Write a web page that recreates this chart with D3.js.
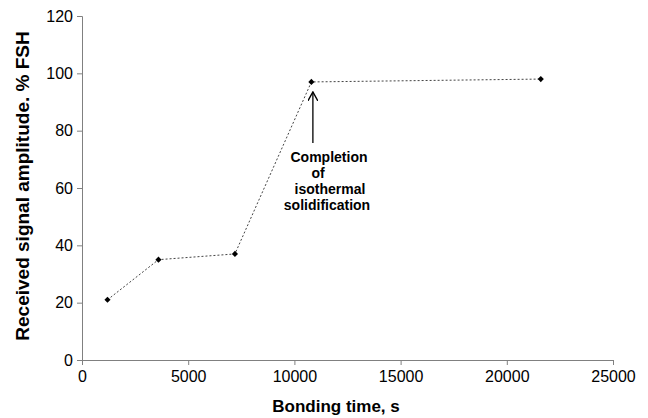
<!DOCTYPE html>
<html>
<head>
<meta charset="utf-8">
<script src="https://cdn.jsdelivr.net/npm/d3@7"></script>
<style>
  html, body { margin: 0; padding: 0; background: #fff; }
  svg { display: block; font-family: Arial, "Liberation Sans", sans-serif; }
</style>
</head>
<body>
<svg id="chart" width="648" height="418"></svg>
<script>
// Bonding time (s) and received signal amplitude (% FSH)
const bondingTime = [1200, 3600, 7200, 10800, 21600];
const amplitude = [21, 35, 37, 97, 98];
const xTicks = [0, 5000, 10000, 15000, 20000, 25000];
const yTicks = [0, 20, 40, 60, 80, 100, 120];
const annotationLines = ["Completion", "of", "isothermal", "solidification"];
const annotatedIndex = 3;

const svg = d3.select("#chart");
const margin = { left: 82, right: 35, top: 16, bottom: 58 };
const W = 648, H = 418;

const x = d3.scaleLinear().domain([0, 25000]).range([margin.left, W - margin.right]);
const y = d3.scaleLinear().domain([0, 120]).range([H - margin.bottom, margin.top]);

const axisColor = "#808080";
const fontStack = "Arial, 'Liberation Sans', sans-serif";

// x axis
const gx = svg.append("g")
  .attr("transform", `translate(0,${y(0)})`)
  .call(d3.axisBottom(x).tickValues(xTicks).tickSize(5).tickPadding(6).tickFormat(d3.format("d")));
gx.select(".domain").attr("stroke", axisColor);
gx.selectAll(".tick line").attr("stroke", axisColor);
gx.selectAll(".tick text").attr("font-size", 16).attr("fill", "#000").attr("font-family", fontStack);

// y axis
const gy = svg.append("g")
  .attr("transform", `translate(${x(0)},0)`)
  .call(d3.axisLeft(y).tickValues(yTicks).tickSize(5).tickPadding(4).tickFormat(d3.format("d")));
gy.select(".domain").attr("stroke", axisColor);
gy.selectAll(".tick line").attr("stroke", axisColor);
gy.selectAll(".tick text").attr("font-size", 16).attr("fill", "#000").attr("font-family", fontStack);

// axis titles
svg.append("text")
  .attr("x", 336)
  .attr("y", 412)
  .attr("text-anchor", "middle")
  .attr("font-size", 17)
  .attr("font-weight", "bold")
  .text("Bonding time, s");

svg.append("text")
  .attr("transform", "translate(28.5,186) rotate(-90)")
  .attr("text-anchor", "middle")
  .attr("font-size", 19)
  .attr("font-weight", "bold")
  .text("Received signal amplitude. % FSH");

// series line
const pts = bondingTime.map((t, i) => [t, amplitude[i]]);
svg.append("path")
  .datum(pts)
  .attr("fill", "none")
  .attr("stroke", "#444")
  .attr("stroke-width", 1)
  .attr("stroke-dasharray", "2,2")
  .attr("d", d3.line().x(d => x(d[0])).y(d => y(d[1])));

// diamond markers
svg.append("g").selectAll("path")
  .data(pts)
  .join("path")
  .attr("transform", d => `translate(${x(d[0])},${y(d[1])})`)
  .attr("d", d3.symbol(d3.symbolDiamond2, 24))
  .attr("fill", "#000");

// annotation arrow and text
const ax = x(bondingTime[annotatedIndex]) + 1.5;
const tipY = y(amplitude[annotatedIndex]) + 10;
svg.append("defs").append("marker")
  .attr("id", "arrowhead")
  .attr("viewBox", "0 0 10 10")
  .attr("refX", 9).attr("refY", 5)
  .attr("markerWidth", 10).attr("markerHeight", 10)
  .attr("markerUnits", "userSpaceOnUse")
  .attr("orient", "auto")
  .append("path")
  .attr("d", "M0,0 L9,5 L0,10")
  .attr("fill", "none")
  .attr("stroke", "#000")
  .attr("stroke-width", 1.4);

svg.append("line")
  .attr("x1", ax).attr("x2", ax)
  .attr("y1", 143).attr("y2", tipY)
  .attr("stroke", "#000")
  .attr("stroke-width", 1.3)
  .attr("marker-end", "url(#arrowhead)");

const lineCenters = [329, 318, 330, 327];
svg.append("g").selectAll("text")
  .data(annotationLines)
  .join("text")
  .attr("x", (d, i) => lineCenters[i])
  .attr("y", (d, i) => 162 + i * 16)
  .attr("text-anchor", "middle")
  .attr("font-size", 14)
  .attr("font-weight", "bold")
  .text(d => d);
</script>
</body>
</html>
